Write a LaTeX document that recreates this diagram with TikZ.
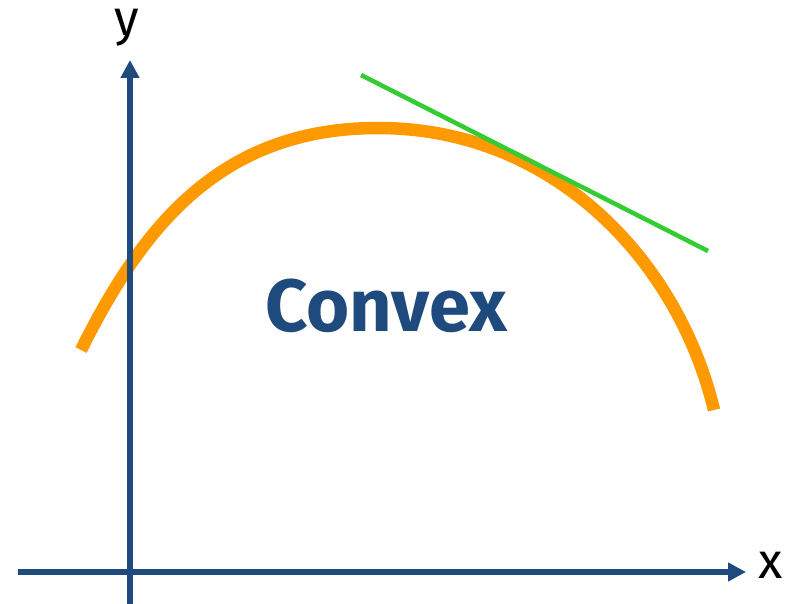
\documentclass[tikz,border=0pt]{standalone}
\usepackage{fontspec}
\setmainfont{Fira Sans}
\usetikzlibrary{arrows.meta}
\definecolor{axisblue}{HTML}{1F4A7D}
\definecolor{curveorange}{HTML}{FF9900}
\definecolor{tangentgreen}{HTML}{33CC33}
\tikzset{
  axis/.style={draw=axisblue, line width=6pt, -{Triangle[length=18pt,width=18pt]}},
  curve/.style={draw=curveorange, line width=12.5pt},
  tangent/.style={draw=tangentgreen, line width=4.5pt},
  axislabel/.style={font=\fontsize{50}{50}\selectfont, text=black, inner sep=0pt},
  bigtext/.style={font=\fontsize{74}{74}\selectfont\bfseries, text=axisblue, inner sep=0pt}
}
\begin{document}
\begin{tikzpicture}[x=1pt,y=-1pt]
\useasboundingbox (0,0) rectangle (794,604);
% curve
\coordinate (c0) at (81,350);
\coordinate (ctop) at (378,128);
\coordinate (c1) at (714,410);
\draw[curve] (c0) .. controls (141,230) and (218,128) .. (ctop)
                 .. controls (553,128) and (678,260) .. (c1);
% tangent
\coordinate (t1) at (361,75);
\coordinate (t2) at (708,251);
\draw[tangent] (t1) -- (t2);
% axes
\coordinate (yb) at (130,604);
\coordinate (yt) at (130,60);
\coordinate (xl) at (18,572);
\coordinate (xr) at (746,572);
\draw[axis] (yb) -- (yt);
\draw[axis] (xl) -- (xr);
\node[axislabel] (ylab) at (127,28) {y};
\node[axislabel] (xlab) at (771,565) {x};
\node[bigtext] (conv) at (386,306) {Convex};
\end{tikzpicture}
\end{document}
